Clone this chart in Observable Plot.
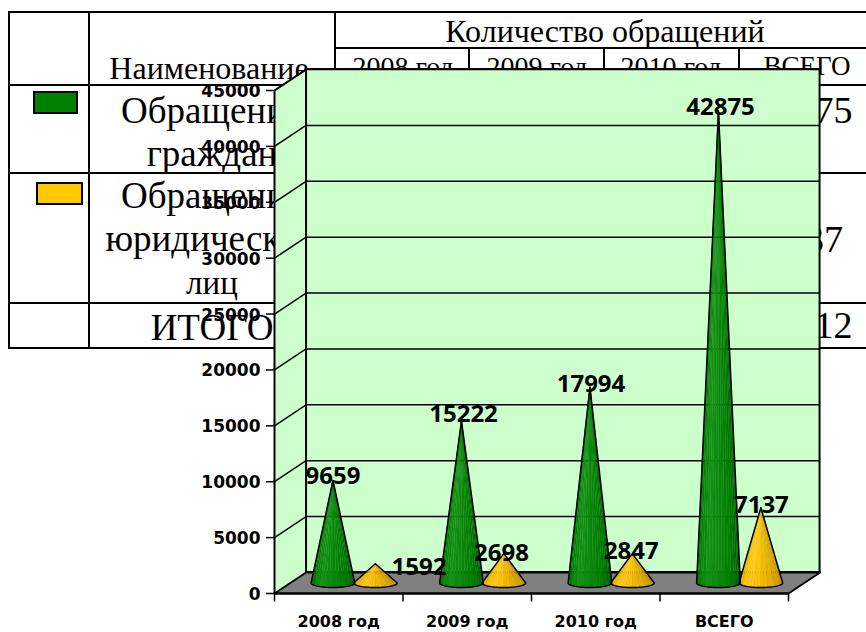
<!DOCTYPE html>
<html lang="ru">
<head>
<meta charset="utf-8">
<title>Количество обращений</title>
<script src="https://cdn.jsdelivr.net/npm/d3@7"></script>
<script src="https://cdn.jsdelivr.net/npm/@observablehq/plot@0.6"></script>
<style>
  html, body { margin: 0; padding: 0; background: #fff; }
  body { position: relative; width: 866px; height: 632px; overflow: hidden; }
  .tbl { position: absolute; inset: 0; font-family: "Liberation Serif", serif; color: #000; }
  .tbl .h, .tbl .v { position: absolute; background: #000; }
  .tbl .t { position: absolute; white-space: nowrap; transform: translateX(-50%); line-height: 1; }
  .tbl .s { position: absolute; border: 2px solid #000; box-sizing: border-box; }
  #chart { position: absolute; left: 0; top: 0; }
  #chart svg { display: block; }
</style>
</head>
<body>
<div class="tbl" id="tbl"></div>
<div id="chart"></div>
<script>
// ---------- values ----------
const categories = ["2008 год", "2009 год", "2010 год", "ВСЕГО"];
const citizens = [9659, 15222, 17994, 42875];
const legal = [1592, 2698, 2847, 7137];
const totals = [11251, 17920, 20841, 50012];
const yTicks = [0, 5000, 10000, 15000, 20000, 25000, 30000, 35000, 40000, 45000];
const greenShades = ["#006a00", "#007a00", "#0a8a0a", "#159015", "#0f8a0f", "#0a840a", "#008000", "#007400", "#006800", "#005e00"];
const yellowShades = ["#e0a800", "#f2b800", "#ffc606", "#ffc81a", "#fbc20c", "#f0b800", "#e6b000", "#dba600", "#d09c00", "#c49200"];

// ---------- table behind the chart ----------
const tbl = document.getElementById("tbl");
const add = (cls, css, text) => {
  const e = document.createElement("div");
  e.className = cls;
  e.style.cssText = css;
  if (text) e.textContent = text;
  tbl.appendChild(e);
};
[[12, 9], [85, 9], [173, 9], [303, 9], [348, 9], [48, 335]].forEach(([y, x]) =>
  add("h", `left:${x}px;top:${y - 1}px;right:0;height:2px`));
[[9, 12, 348], [89, 12, 348], [335, 12, 348], [469, 48, 348], [604, 48, 348], [739, 48, 348]].forEach(([x, a, b]) =>
  add("v", `left:${x - 1}px;top:${a - 1}px;width:2px;height:${b - a + 2}px`));
add("s", "left:33px;top:91px;width:45px;height:23px;background:#008000");
add("s", "left:36px;top:182px;width:47px;height:23px;background:#ffc800");
const cell = (x, y, size, text) => add("t", `left:${x}px;top:${y}px;font-size:${size}px`, text);
const valueColumns = [402, 537, 672, 805];
cell(605, 15, 32, "Количество обращений");
cell(209, 52, 32, "Наименование");
[403, 537, 671, 807].forEach((x, i) => cell(x, 53, i === 3 ? 27 : 28, categories[i]));
cell(212, 92, 37, "Обращения");
cell(212, 135, 37, "граждан");
cell(212, 177, 37, "Обращения");
cell(212, 220, 37, "юридических");
cell(212, 267, 33, "лиц");
cell(212, 309, 37, "ИТОГО");
[[citizens, 91], [legal, 220], [totals, 306]].forEach(([row, y]) =>
  row.forEach((v, i) => cell(valueColumns[i], y, 38, String(v))));

// ---------- chart ----------
const depthX = 0.2456;   // floor depth in x-scale units
const depthY = 1878;     // floor depth in y-scale units
const tickDrop = 715;    // x tick length in y-scale units
const coneHalfWidth = 0.17, coneBaseDepth = 400, sliceCount = 20;
const greenOffset = 0.455, yellowOffset = 0.785;
const greenTipLift = [450, 200, 450, 270];
const yellowTipLift = [1070, 890, 720, 540];
const greenLabelLift = [806, 788, 745, 595];
const yellowLabelLift = [734, 880, 910, 734];
const greenLabelShift = [0, 0.016, 0.008, 0.016];
const yellowLabelShift = [0.339, -0.019, -0.008, 0.004];

const cones = [
  ...citizens.map((v, i) => ({ v, lift: greenTipLift[i], xc: i + greenOffset, shades: greenShades, key: "g" + i })),
  ...legal.map((v, i) => ({ v, lift: yellowTipLift[i], xc: i + yellowOffset, shades: yellowShades, key: "y" + i }))
].sort((a, b) => a.xc - b.xc);

const basePoint = (c, k) => {
  const t = Math.PI * (1 - k / sliceCount);
  return { x: c.xc + coneHalfWidth * Math.cos(t), y: depthY / 2 - coneBaseDepth * Math.sin(t) };
};
const slices = cones.flatMap(c => d3.range(sliceCount).flatMap(k => {
  const z = c.key + "-" + k, shade = c.shades[Math.floor(k * c.shades.length / sliceCount)];
  const tip = { x: c.xc, y: c.v + c.lift };
  return [tip, basePoint(c, k), basePoint(c, k + 1)].map(p => ({ ...p, z, shade }));
}));
const outlines = cones.flatMap(c => {
  const tip = { x: c.xc, y: c.v + c.lift, z: c.key };
  return [tip, ...d3.range(sliceCount + 1).map(k => ({ ...basePoint(c, k), z: c.key })), tip];
});
const labels = [
  ...citizens.map((v, i) => ({ v, x: i + greenOffset + greenLabelShift[i], y: v + greenLabelLift[i] })),
  ...legal.map((v, i) => ({ v, x: i + yellowOffset + yellowLabelShift[i], y: v + yellowLabelLift[i] }))
];
const font = "'Noto Sans', sans-serif";
const axisFont = "'DejaVu Sans', sans-serif";

const plot = Plot.plot({
  width: 866, height: 632,
  marginLeft: 274, marginRight: 78, marginTop: 90, marginBottom: 39,
  x: { type: "linear", domain: [0, 4] },
  y: { type: "linear", domain: [0, 45000] },
  color: { type: "identity" },
  style: { background: "transparent", overflow: "visible" },
  marks: [
    // back wall
    Plot.rect([0], { x1: depthX, x2: 4 + depthX, y1: depthY, y2: 45000 + depthY, fill: "#ccffcc", stroke: "#000", strokeWidth: 2 }),
    // left wall
    Plot.line([[0, 0], [depthX, depthY], [depthX, 45000 + depthY], [0, 45000]],
      { x: d => d[0], y: d => d[1], fill: "#ccffcc", stroke: "none" }),
    // floor
    Plot.line([[0, 0], [depthX, depthY], [4 + depthX, depthY], [4, 0], [0, 0]],
      { x: d => d[0], y: d => d[1], fill: "#808080", stroke: "#000", strokeWidth: 2 }),
    // grid
    Plot.link(yTicks.slice(1), { x1: depthX, x2: 4 + depthX, y1: d => d + depthY, y2: d => d + depthY, stroke: "#000", strokeWidth: 1.5 }),
    Plot.link(yTicks.slice(1), { x1: 0, x2: depthX, y1: d => d, y2: d => d + depthY, stroke: "#000", strokeWidth: 1.5 }),
    Plot.link([0], { x1: 0, x2: 0, y1: 0, y2: 45000, stroke: "#000", strokeWidth: 2 }),
    Plot.link([0], { x1: depthX, x2: depthX, y1: depthY, y2: 45000 + depthY, stroke: "#000", strokeWidth: 2 }),
    Plot.link([0], { x1: 0, x2: depthX, y1: 45000, y2: 45000 + depthY, stroke: "#000", strokeWidth: 2 }),
    // cones
    Plot.line(slices, { x: "x", y: "y", z: "z", fill: "shade", stroke: "shade", strokeWidth: 0.5 }),
    Plot.line(outlines, { x: "x", y: "y", z: "z", stroke: "#000", strokeWidth: 1.5 }),
    // axes
    Plot.axisY({ ticks: yTicks, text: null, tickSize: 8, label: null, stroke: "#000", strokeWidth: 1.5 }),
    Plot.axisY({ ticks: yTicks, tickFormat: d => String(d), tickSize: 0, tickPadding: 14, dy: 1, label: null,
      fontSize: 17, fontWeight: 700, fontFamily: axisFont }),
    Plot.link([0], { x1: 0, x2: 4, y1: 0, y2: 0, stroke: "#000", strokeWidth: 2 }),
    Plot.link([0, 1, 2, 3, 4], { x1: d => d, x2: d => d, y1: 0, y2: -tickDrop, stroke: "#000", strokeWidth: 1.5 }),
    Plot.axisX({ ticks: [0.5, 1.5, 2.5, 3.5], tickFormat: d => categories[d - 0.5], tickSize: 0, tickPadding: 22, label: null,
      fontSize: 16, fontWeight: 700, fontFamily: axisFont }),
    // value labels
    Plot.text(labels, { x: "x", y: "y", text: d => String(d.v), fontSize: 24, fontWeight: 700, fontFamily: font, fill: "#000", lineAnchor: "middle" })
  ]
});
document.getElementById("chart").appendChild(plot);
</script>
</body>
</html>
